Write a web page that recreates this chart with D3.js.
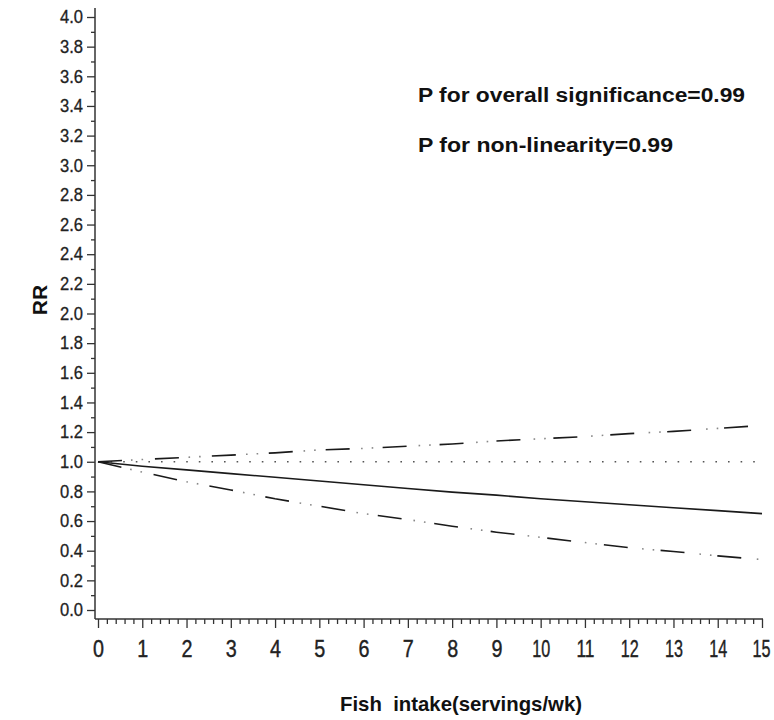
<!DOCTYPE html>
<html>
<head>
<meta charset="utf-8">
<script src="https://cdn.jsdelivr.net/npm/d3@7"></script>
<style>
  html, body { margin: 0; padding: 0; background: #fff; }
  svg { display: block; }
  .tick-label { font-family: "Liberation Sans", Arial, sans-serif; fill: #222; }
  .bold-text { font-family: "Liberation Sans", Arial, sans-serif; font-weight: bold; fill: #111; }
</style>
</head>
<body>
<svg id="chart" width="774" height="720"></svg>
<script>
// fish intake (servings/wk)
const intake = [0, 1, 2, 3, 4, 5, 6, 7, 8, 9, 10, 11, 12, 13, 14, 15];
// relative risk and 95% CI
const rr = [1.00, 0.97, 0.945, 0.92, 0.895, 0.87, 0.845, 0.82, 0.795, 0.775, 0.75, 0.73, 0.71, 0.69, 0.67, 0.65];
const upper = [1.00, 1.015, 1.03, 1.045, 1.06, 1.08, 1.09, 1.105, 1.12, 1.14, 1.155, 1.17, 1.19, 1.205, 1.225, 1.245];
const lower = [1.00, 0.93, 0.865, 0.81, 0.75, 0.70, 0.65, 0.61, 0.565, 0.525, 0.49, 0.455, 0.42, 0.395, 0.365, 0.34];
const refValue = 1.0;

const yTicks = d3.range(0, 4.01, 0.2);
const xTicks = d3.range(0, 16, 1);
const notes = ["P for overall significance=0.99", "P for non-linearity=0.99"];
const noteWidths = [327, 255];

const svg = d3.select("#chart");
svg.append("rect").attr("width", 774).attr("height", 720).attr("fill", "#fff");

const x = d3.scaleLinear().domain([0, 15]).range([98, 762]);
const y = d3.scaleLinear().domain([0, 4]).range([610, 17]);

const axisX = 95, axisY = 619;

// y axis
svg.append("g")
  .attr("transform", `translate(${axisX},0)`)
  .call(d3.axisLeft(y).tickValues(d3.range(0.1, 4, 0.2)).tickSize(4).tickFormat(""))
  .call(g => g.select(".domain").remove())
  .call(g => g.selectAll(".tick line").attr("stroke", "#333").attr("stroke-width", 1.3));

svg.append("g")
  .attr("transform", `translate(${axisX},0)`)
  .call(d3.axisLeft(y).tickValues(yTicks).tickSize(8).tickPadding(4).tickFormat(d3.format(".1f")))
  .call(g => g.select(".domain").remove())
  .call(g => g.selectAll(".tick line").attr("stroke", "#333").attr("stroke-width", 1.3))
  .call(g => g.selectAll(".tick text")
    .attr("class", "tick-label")
    .attr("font-size", 18)
    .attr("textLength", 23)
    .attr("lengthAdjust", "spacingAndGlyphs")
    .attr("fill", "#222")
    .attr("stroke", "#222")
    .attr("stroke-width", 0.3));

svg.append("line")
  .attr("x1", axisX).attr("x2", axisX)
  .attr("y1", 8).attr("y2", axisY)
  .attr("stroke", "#333").attr("stroke-width", 1.5);

// x axis
svg.append("g")
  .attr("transform", `translate(0,${axisY})`)
  .call(d3.axisBottom(x).tickValues(d3.range(0, 15.01, 0.2).filter(v => Math.abs(v - Math.round(v)) > 0.01)).tickSize(5).tickFormat(""))
  .call(g => g.select(".domain").remove())
  .call(g => g.selectAll(".tick line").attr("stroke", "#333").attr("stroke-width", 1.3));

svg.append("g")
  .attr("transform", `translate(0,${axisY})`)
  .call(d3.axisBottom(x).tickValues(xTicks).tickSize(9).tickPadding(12).tickFormat(d3.format("d")))
  .call(g => g.select(".domain").remove())
  .call(g => g.selectAll(".tick line").attr("stroke", "#333").attr("stroke-width", 1.3))
  .call(g => g.selectAll(".tick text")
    .attr("class", "tick-label")
    .attr("font-size", 24)
    .attr("textLength", d => String(d).length > 1 ? 18 : 11)
    .attr("lengthAdjust", "spacingAndGlyphs")
    .attr("dx", d => d === 15 ? -1 : 0)
    .attr("fill", "#222")
    .attr("stroke", "#222")
    .attr("stroke-width", 0.4));

svg.append("line")
  .attr("x1", axisX).attr("x2", 763)
  .attr("y1", axisY).attr("y2", axisY)
  .attr("stroke", "#333").attr("stroke-width", 1.5);

// reference line at RR = 1
svg.append("line")
  .attr("x1", x(0)).attr("x2", x(15))
  .attr("y1", y(refValue)).attr("y2", y(refValue))
  .attr("stroke", "#555")
  .attr("stroke-width", 1.6)
  .attr("stroke-dasharray", "1.6,11");

const line = d3.line()
  .x((d, i) => x(intake[i]))
  .y(d => y(d));

svg.append("path")
  .datum(rr)
  .attr("d", line)
  .attr("fill", "none")
  .attr("stroke", "#1a1a1a")
  .attr("stroke-width", 1.6);

// confidence limits: dark long dashes with faint dots between
[upper, lower].forEach(series => {
  svg.append("path")
    .datum(series)
    .attr("d", line)
    .attr("fill", "none")
    .attr("stroke", "#1a1a1a")
    .attr("stroke-width", 1.6)
    .attr("stroke-dasharray", "24,33");
  svg.append("path")
    .datum(series)
    .attr("d", line)
    .attr("fill", "none")
    .attr("stroke", "#888")
    .attr("stroke-width", 1.6)
    .attr("stroke-dasharray", "0,33,1.6,9,1.6,12.4");
});

// annotations
svg.selectAll(".note")
  .data(notes)
  .join("text")
  .attr("class", "bold-text note")
  .attr("x", 418)
  .attr("y", (d, i) => 102 + i * 50)
  .attr("font-size", 19.5)
  .attr("textLength", (d, i) => noteWidths[i])
  .attr("lengthAdjust", "spacingAndGlyphs")
  .text(d => d);

// axis titles
svg.append("text")
  .attr("class", "bold-text")
  .attr("transform", "translate(47,300) rotate(-90)")
  .attr("text-anchor", "middle")
  .attr("font-size", 21)
  .text("RR");

svg.append("text")
  .attr("class", "bold-text")
  .attr("x", 461)
  .attr("y", 711)
  .attr("text-anchor", "middle")
  .attr("font-size", 21)
  .attr("textLength", 242)
  .attr("lengthAdjust", "spacingAndGlyphs")
  .style("white-space", "pre")
  .text("Fish  intake(servings/wk)");
</script>
</body>
</html>
